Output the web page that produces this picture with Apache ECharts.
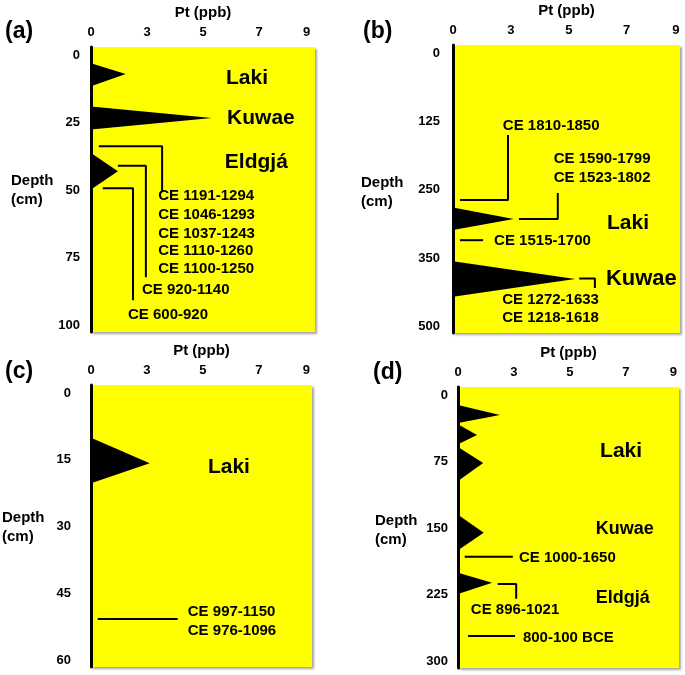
<!DOCTYPE html>
<html>
<head>
<meta charset="utf-8">
<script src="https://cdn.jsdelivr.net/npm/echarts@6/dist/echarts.min.js"></script>
<style>
  html, body { margin: 0; padding: 0; background: #fff; }
  #chart { width: 685px; height: 675px; }
</style>
</head>
<body>
<div id="chart"></div>
<script>
// tick labels sit evenly spaced on the figure, so the axes work in "slot" units
var ptTicks = ['0', '3', '5', '7', '9'];
var ptTickPos = [0, 1, 2, 3, 3.85];
var depthTickPos = [0, 1, 2, 3, 4];
var depthTicksA = ['0', '25', '50', '75', '100'];
var depthTicksB = ['0', '125', '250', '350', '500'];
var depthTicksC = ['0', '15', '30', '45', '60'];
var depthTicksD = ['0', '75', '150', '225', '300'];

// Pt peaks: [top depth, apex depth, bottom depth, apex Pt]
var peaksA = [[0.12, 0.28, 0.46, 0.62], [0.76, 0.93, 1.10, 2.16], [1.45, 1.72, 1.99, 0.48]];
var peaksB = [[2.26, 2.43, 2.59, 1.05], [3.05, 3.31, 3.57, 2.11]];
var peaksC = [[0.67, 1.05, 1.35, 1.05]];
var peaksD = [[0.15, 0.30, 0.42, 0.75], [0.44, 0.60, 0.74, 0.34], [0.78, 1.02, 1.29, 0.45],
              [1.80, 2.07, 2.33, 0.46], [2.67, 2.82, 2.99, 0.61]];

// dating leader lines, in axis units
var leadersA = [
  [[0.14, 1.35], [1.27, 1.35], [1.27, 2.03]],
  [[0.48, 1.64], [0.98, 1.64], [0.98, 3.29]],
  [[0.21, 1.97], [0.75, 1.97], [0.75, 3.63]]
];
var leadersB = [
  [[0.12, 2.15], [0.95, 2.15], [0.95, 1.20]],
  [[1.14, 2.43], [1.81, 2.43], [1.81, 2.05]],
  [[0.12, 2.74], [0.52, 2.74]],
  [[2.18, 3.30], [2.45, 3.30], [2.45, 3.44]]
];
var leadersC = [[[0.12, 3.38], [1.55, 3.38]]];
var leadersD = [
  [[0.12, 2.43], [0.98, 2.43]],
  [[0.71, 2.84], [1.04, 2.84], [1.04, 3.06]],
  [[0.18, 3.62], [1.02, 3.62]]
];

// text notes: [text, x, y, font size]
var notesA = [
  ['Laki', 2.41, 0.34, 21], ['Kuwae', 2.43, 0.93, 21], ['Eldgjá', 2.39, 1.59, 21],
  ['CE 1191-1294', 1.20, 2.09, 15], ['CE 1046-1293', 1.20, 2.36, 15],
  ['CE 1037-1243', 1.20, 2.64, 15], ['CE 1110-1260', 1.20, 2.90, 15],
  ['CE 1100-1250', 1.20, 3.17, 15], ['CE 920-1140', 0.91, 3.47, 15],
  ['CE 600-920', 0.66, 3.84, 15]
];
var notesB = [
  ['CE 1810-1850', 0.86, 1.07, 15], ['CE 1590-1799', 1.74, 1.55, 15],
  ['CE 1523-1802', 1.74, 1.83, 15], ['Laki', 2.66, 2.49, 21],
  ['CE 1515-1700', 0.71, 2.75, 15], ['Kuwae', 2.64, 3.31, 22],
  ['CE 1272-1633', 0.85, 3.62, 15], ['CE 1218-1618', 0.85, 3.88, 15]
];
var notesC = [
  ['Laki', 2.09, 1.11, 21], ['CE 997-1150', 1.73, 3.28, 15], ['CE 976-1096', 1.73, 3.56, 15]
];
var notesD = [
  ['Laki', 2.54, 0.84, 21], ['Kuwae', 2.46, 2.01, 18], ['Eldgjá', 2.46, 3.05, 18],
  ['CE 1000-1650', 1.09, 2.45, 15], ['CE 896-1021', 0.23, 3.23, 15],
  ['800-100 BCE', 1.16, 3.65, 15]
];

var FONT = '"Liberation Sans", Arial, sans-serif';

var panels = [
  { tag: '(a)', grid: { left: 91, top: 47, width: 224, height: 285 }, xMax: 4.0, depth: depthTicksA, yMargin: 11,
    peaks: peaksA, leaders: leadersA, notes: notesA, tagAt: [5, 32], depthAt: [11, 190] },
  { tag: '(b)', grid: { left: 453, top: 45, width: 227, height: 288 }, xMax: 3.92, depth: depthTicksB, yMargin: 13,
    peaks: peaksB, leaders: leadersB, notes: notesB, tagAt: [363, 32], depthAt: [361, 192] },
  { tag: '(c)', grid: { left: 91, top: 385, width: 221, height: 282 }, xMax: 3.95, depth: depthTicksC, yMargin: 20,
    peaks: peaksC, leaders: leadersC, notes: notesC, tagAt: [5, 372], depthAt: [2, 527] },
  { tag: '(d)', grid: { left: 458, top: 387, width: 221, height: 281 }, xMax: 3.95, depth: depthTicksD, yMargin: 10,
    peaks: peaksD, leaders: leadersD, notes: notesD, tagAt: [373, 373], depthAt: [375, 530] }
];

function nearest(list, v) {
  var best = 0;
  for (var k = 1; k < list.length; k++) {
    if (Math.abs(list[k] - v) < Math.abs(list[best] - v)) best = k;
  }
  return best;
}

var grids = [], xAxes = [], yAxes = [], series = [], graphic = [];

panels.forEach(function (p, i) {
  grids.push(Object.assign({
    show: true, backgroundColor: '#ffff00', borderWidth: 0,
    shadowColor: 'rgba(0,0,0,0.35)', shadowBlur: 2, shadowOffsetX: 1.5, shadowOffsetY: 1.5
  }, p.grid));

  xAxes.push({
    gridIndex: i, type: 'value', position: 'top', min: 0, max: p.xMax,
    name: 'Pt (ppb)', nameLocation: 'middle', nameGap: 27,
    nameTextStyle: { fontFamily: FONT, fontWeight: 'bold', fontSize: 15, color: '#000' },
    axisLine: { show: false, onZero: false }, axisTick: { show: false }, splitLine: { show: false },
    axisLabel: {
      customValues: ptTickPos, margin: 8, fontFamily: FONT, fontWeight: 'bold', fontSize: 13, color: '#000',
      formatter: function (v) { return ptTicks[nearest(ptTickPos, v)]; }
    }
  });

  yAxes.push({
    gridIndex: i, type: 'value', inverse: true, min: -0.12, max: 4.1,
    axisLine: { show: true, onZero: false, lineStyle: { color: '#000', width: 3 } },
    axisTick: { show: false }, splitLine: { show: false },
    axisLabel: {
      customValues: depthTickPos, margin: p.yMargin, fontFamily: FONT, fontWeight: 'bold', fontSize: 13, color: '#000',
      formatter: function (v) { return p.depth[nearest(depthTickPos, v)]; }
    }
  });

  series.push({
    type: 'custom', xAxisIndex: i, yAxisIndex: i, silent: true, z: 3,
    data: p.peaks,
    renderItem: function (params, api) {
      var a = api.coord([0, api.value(0)]);
      var b = api.coord([api.value(3), api.value(1)]);
      var c = api.coord([0, api.value(2)]);
      return { type: 'polygon', shape: { points: [a, b, c] }, style: { fill: '#000' } };
    }
  });

  p.leaders.forEach(function (pts) {
    series.push({
      type: 'line', xAxisIndex: i, yAxisIndex: i, silent: true, data: pts,
      symbol: 'none', lineStyle: { color: '#000', width: 2 }
    });
  });

  series.push({
    type: 'scatter', xAxisIndex: i, yAxisIndex: i, silent: true, symbolSize: 0,
    itemStyle: { opacity: 1 },
    data: p.notes.map(function (n) {
      return { name: n[0], value: [n[1], n[2]], label: { fontSize: n[3] } };
    }),
    label: {
      show: true, position: 'right', distance: 0, color: '#000', opacity: 1,
      fontFamily: FONT, fontWeight: 'bold',
      formatter: function (d) { return d.name; }
    }
  });

  graphic.push({
    type: 'text', x: p.tagAt[0], y: p.tagAt[1],
    style: { text: p.tag, fill: '#000', font: 'bold 23px ' + FONT, verticalAlign: 'middle' }
  });
  graphic.push({
    type: 'text', x: p.depthAt[0], y: p.depthAt[1],
    style: { text: 'Depth\n(cm)', fill: '#000', font: 'bold 15px ' + FONT, lineHeight: 19, verticalAlign: 'middle' }
  });
});

var chart = echarts.init(document.getElementById('chart'));
chart.setOption({
  backgroundColor: '#fff',
  animation: false,
  grid: grids,
  xAxis: xAxes,
  yAxis: yAxes,
  series: series,
  graphic: graphic
});
</script>
</body>
</html>
